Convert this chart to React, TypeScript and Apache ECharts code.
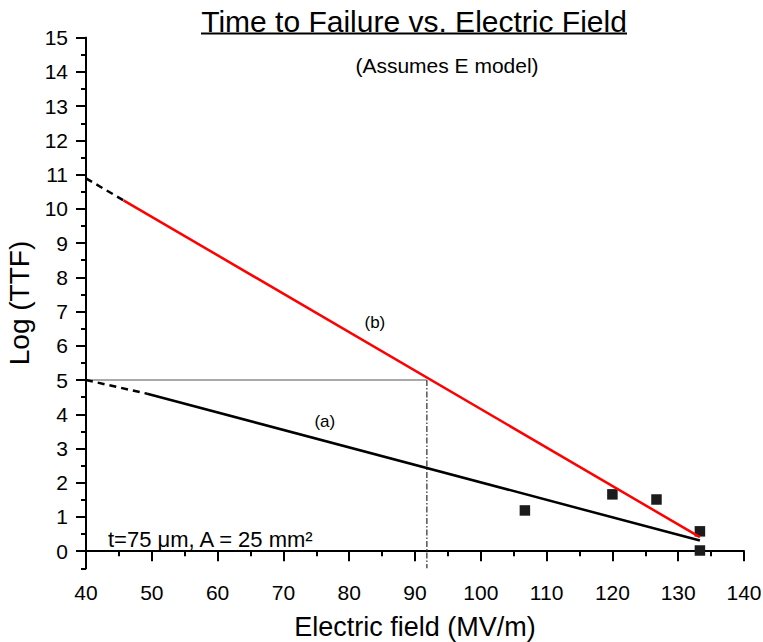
import React, { useEffect, useRef } from "react";
import * as echarts from "echarts";

// Measured data points
const fieldMVm = [106.7, 120.0, 126.7, 133.3, 133.3];
const logTTF = [1.19, 1.66, 1.51, 0.58, 0.02];

// Fit line (a) – solid part and dashed extrapolation
const fitAField = [49.3, 133.3];
const fitALog = [4.6, 0.31];
const fitAExtField = [40, 49.3];
const fitAExtLog = [5.0, 4.6];

// Fit line (b) – solid part and dashed extrapolation
const fitBField = [45.7, 133.3];
const fitBLog = [10.25, 0.41];
const fitBExtField = [40, 45.7];
const fitBExtLog = [10.89, 10.25];

// Reference guide at Log(TTF)=5
const refField = 91.8;
const refLog = 5;
const axisMinLog = -0.5;
const axisMaxLog = 15;
const axisMinField = 40;

// Tick labels
const yTickValues = [0, 1, 2, 3, 4, 5, 6, 7, 8, 9, 10, 11, 12, 13, 14, 15];
const yMinorValues = [-0.5, 0.5, 1.5, 2.5, 3.5, 4.5, 5.5, 6.5, 7.5, 8.5, 9.5, 10.5, 11.5, 12.5, 13.5, 14.5];

// Curve labels
const curveLabels = ["(a)", "(b)"];
const curveLabelField = [76.3, 83.9];
const curveLabelLog = [3.79, 6.69];

const FONT = "'Liberation Sans', Arial, sans-serif";

const zip = (xs: number[], ys: number[]) => xs.map((x, i) => [x, ys[i]]);

export default function App() {
  const ref = useRef<HTMLDivElement>(null);
  useEffect(() => {
    document.body.style.margin = "0";
    const chart = echarts.init(ref.current!, null, { renderer: "svg" });
    const axisLine = { show: true, lineStyle: { color: "#000", width: 2 } };
    chart.setOption({
      animation: false,
      backgroundColor: "#fff",
      grid: {
        left: 86,
        top: 37.7,
        width: 658,
        height: 530.6,
        containLabel: false,
        outerBoundsMode: "none",
      },
      xAxis: {
        type: "value",
        min: 40,
        max: 140,
        interval: 10,
        name: "Electric field (MV/m)",
        nameLocation: "middle",
        nameGap: 45,
        nameTextStyle: { fontFamily: FONT, fontSize: 27, color: "#000" },
        axisLine,
        axisTick: { show: true, inside: false, length: 10, lineStyle: { color: "#000", width: 2 } },
        minorTick: { show: true, splitNumber: 2, length: 5, lineStyle: { color: "#000", width: 2 } },
        axisLabel: { fontFamily: FONT, fontSize: 21, color: "#000", margin: 14 },
        splitLine: { show: false },
        minorSplitLine: { show: false },
      },
      yAxis: [
        {
          type: "value",
          position: "left",
          min: axisMinLog,
          max: axisMaxLog,
          axisLine,
          axisTick: { show: true, inside: false, length: 5, customValues: yMinorValues, lineStyle: { color: "#000", width: 2 } },
          axisLabel: { show: false },
          splitLine: { show: false },
        },
        {
          type: "value",
          position: "left",
          min: axisMinLog,
          max: axisMaxLog,
          name: "Log (TTF)",
          nameLocation: "middle",
          nameGap: 52,
          nameRotate: 90,
          nameTextStyle: { fontFamily: FONT, fontSize: 28, color: "#000" },
          axisLine,
          axisTick: { show: true, inside: false, length: 10, customValues: yTickValues, lineStyle: { color: "#000", width: 2 } },
          axisLabel: { fontFamily: FONT, fontSize: 21, color: "#000", margin: 18, customValues: yTickValues },
          splitLine: { show: false },
        },
      ],
      series: [
        {
          type: "line",
          data: zip([axisMinField, refField], [refLog, refLog]),
          symbol: "none",
          lineStyle: { color: "#555", width: 1.2 },
          silent: true,
        },
        {
          type: "line",
          data: zip([refField, refField], [refLog, axisMinLog]),
          symbol: "none",
          lineStyle: { color: "#555", width: 1.5, type: [6, 2, 1.5, 2] },
          silent: true,
        },
        {
          type: "line",
          data: zip(fitAExtField, fitAExtLog),
          symbol: "none",
          lineStyle: { color: "#000", width: 2.5, type: [7, 5] },
        },
        {
          type: "line",
          data: zip(fitAField, fitALog),
          symbol: "none",
          lineStyle: { color: "#000", width: 2.5 },
        },
        {
          type: "line",
          data: zip(fitBExtField, fitBExtLog),
          symbol: "none",
          lineStyle: { color: "#000", width: 2.5, type: [7, 5] },
        },
        {
          type: "line",
          data: zip(fitBField, fitBLog),
          symbol: "none",
          lineStyle: { color: "#ff0000", width: 2.5 },
        },
        {
          type: "scatter",
          data: zip(fieldMVm, logTTF),
          symbol: "rect",
          symbolSize: 10.5,
          itemStyle: { color: "#1c1c1c", opacity: 1 },
        },
        {
          type: "scatter",
          data: curveLabels.map((t, i) => ({ value: [curveLabelField[i], curveLabelLog[i]], name: t })),
          symbolSize: 0,
          itemStyle: { opacity: 1 },
          label: {
            show: true,
            position: "inside",
            formatter: (p: any) => p.name,
            fontFamily: FONT,
            fontSize: 17,
            color: "#000",
            opacity: 1,
          },
          silent: true,
        },
      ],
      graphic: [
        {
          type: "text",
          x: 414,
          y: 21,
          style: {
            text: "Time to Failure vs. Electric Field",
            fontFamily: FONT,
            fontSize: 30,
            fill: "#000",
            textAlign: "center",
            textVerticalAlign: "middle",
          },
        },
        {
          type: "line",
          shape: { x1: 201, y1: 33.5, x2: 627, y2: 33.5 },
          style: { stroke: "#000", lineWidth: 2 },
        },
        {
          type: "text",
          x: 447,
          y: 65,
          style: {
            text: "(Assumes E model)",
            fontFamily: FONT,
            fontSize: 21,
            fill: "#000",
            textAlign: "center",
            textVerticalAlign: "middle",
          },
        },
        {
          type: "text",
          x: 108,
          y: 539,
          style: {
            text: "t=75 \u03bcm, A = 25 mm\u00b2",
            fontFamily: FONT,
            fontSize: 22,
            fill: "#000",
            textAlign: "left",
            textVerticalAlign: "middle",
          },
        },
      ],
    });
    return () => chart.dispose();
  }, []);
  return <div ref={ref} style={{ width: 763, height: 642 }} />;
}
